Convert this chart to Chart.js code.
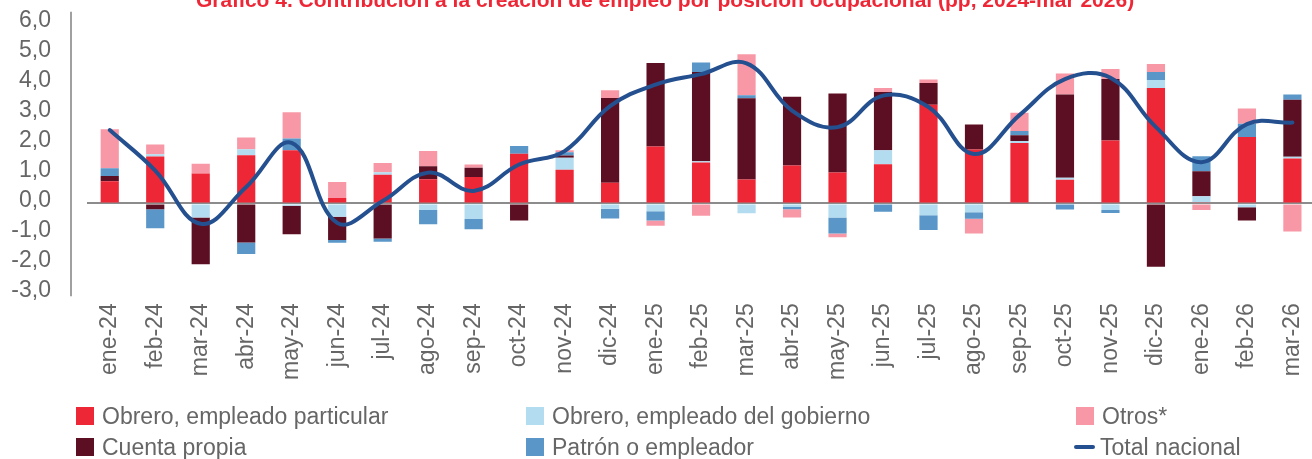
<!DOCTYPE html>
<html><head><meta charset="utf-8">
<script src="https://cdn.jsdelivr.net/npm/chart.js@4.4.1/dist/chart.umd.min.js"></script>
<style>
html,body{margin:0;padding:0;background:#fff;overflow:hidden;width:1312px;height:459px;position:relative;}
#wrap{position:absolute;left:0;top:-26px;width:1330px;height:485px;}
.lt{position:absolute;font-family:"Liberation Sans",Arial,sans-serif;font-size:23px;color:#666;white-space:nowrap;line-height:26px;}
.sw{position:absolute;}
</style></head><body>
<div id="wrap"><canvas id="c" width="1330" height="485"></canvas></div>
<div id="legend"></div>
<script>
const categories = ["ene-24","feb-24","mar-24","abr-24","may-24","jun-24","jul-24","ago-24","sep-24","oct-24","nov-24","dic-24",
  "ene-25","feb-25","mar-25","abr-25","may-25","jun-25","jul-25","ago-25","sep-25","oct-25","nov-25","dic-25",
  "ene-26","feb-26","mar-26"];
const obreroParticular = [0.74,1.57,1.00,1.61,1.78,0.18,0.96,0.81,0.88,1.66,1.13,0.69,1.90,1.37,0.80,1.27,1.03,1.31,3.30,1.80,2.02,0.79,2.10,3.86,0.04,2.22,1.50];
const obreroGobierno = [0.00,0.07,-0.47,0.20,-0.08,-0.44,0.08,-0.22,-0.52,0.00,0.40,-0.18,-0.26,0.04,-0.33,-0.12,-0.47,0.47,-0.39,-0.29,0.07,0.07,-0.22,0.26,0.20,-0.13,0.06];
const cuentaPropia = [0.18,-0.19,-1.56,-1.30,-0.95,-0.78,-1.17,0.43,0.31,-0.57,0.07,2.83,2.79,2.98,2.71,2.29,2.64,1.94,0.72,0.84,0.19,2.78,2.06,-2.11,0.84,-0.44,1.90];
const patron = [0.26,-0.64,0.00,-0.39,0.39,-0.09,-0.11,-0.47,-0.34,0.26,0.11,-0.32,-0.31,0.32,0.10,-0.07,-0.53,-0.28,-0.50,-0.22,0.14,-0.20,-0.10,0.27,0.50,0.44,0.18];
const otros = [1.30,0.33,0.33,0.39,0.88,0.54,0.31,0.51,0.11,0.00,0.07,0.26,-0.17,-0.41,1.37,-0.28,-0.13,0.14,0.12,-0.49,0.61,0.70,0.33,0.27,-0.22,0.51,-0.94];
const totalNacional = [2.45,1.10,-0.68,0.55,2.02,-0.65,0.08,1.03,0.42,1.30,1.75,3.25,3.97,4.32,4.68,3.10,2.55,3.60,3.22,1.65,2.95,4.15,4.20,2.55,1.38,2.65,2.70];
const yTicks = [-3,-2,-1,0,1,2,3,4,5,6];

const C = {
  red:"#ee2737", light:"#b3dcf0", pink:"#f898a6", dark:"#5c0f22", blue:"#5a97c8", line:"#24508f", text:"#666666"
};
const FONT = '"Liberation Sans", Arial, sans-serif';

const axisLine = {
  id:'axisLine',
  afterDraw(chart){
    const {ctx, chartArea:a} = chart;
    ctx.save();
    ctx.strokeStyle = '#808080';
    ctx.lineWidth = 1.5;
    ctx.beginPath();
    ctx.moveTo(a.left-16, a.top-12);
    ctx.lineTo(a.left-16, a.bottom+3);
    ctx.stroke();
    ctx.restore();
  }
};

const bar = (label, data, color, order) => ({
  type:'bar', label, data, backgroundColor:color, borderWidth:0, order, stack:'s',
  barPercentage:0.4, categoryPercentage:1.0
});

new Chart(document.getElementById('c'), {
  data:{
    labels:categories,
    datasets:[
      {type:'line', label:'Total nacional', data:totalNacional, borderColor:C.line, backgroundColor:C.line,
       borderWidth:4, pointRadius:0, tension:0.4, order:0, borderCapStyle:'round'},
      bar('Obrero, empleado particular', obreroParticular, C.red, 1),
      bar('Obrero, empleado del gobierno', obreroGobierno, C.light, 2),
      bar('Cuenta propia', cuentaPropia, C.dark, 3),
      bar('Patrón o empleador', patron, C.blue, 4),
      bar('Otros*', otros, C.pink, 5)
    ]
  },
  options:{
    responsive:false, animation:false,
    layout:{padding:{left:0,right:0,top:0,bottom:65.7}},
    plugins:{
      legend:{display:false},
      tooltip:{enabled:false},
      title:{display:true, text:'Gráfico 4. Contribución a la creación de empleo por posición ocupacional (pp, 2024-mar 2026)',
        color:C.red, font:{family:FONT, size:21, weight:'bold', lineHeight:1.2}, padding:{top:3,bottom:9.7}}
    },
    scales:{
      x:{
        stacked:true,
        grid:{display:false, drawTicks:false},
        border:{display:false},
        ticks:{color:C.text, font:{family:FONT,size:23}, minRotation:90, maxRotation:90, autoSkip:false, padding:10},
        afterFit:(s)=>{ s.height = 100; }
      },
      y:{
        stacked:true, min:-3, max:6,
        afterBuildTicks:(s)=>{ s.ticks = yTicks.map(v=>({value:v})); },
        grid:{drawTicks:false, color:(ctx)=> ctx.tick && ctx.tick.value===0 ? '#8c8c8c' : 'rgba(0,0,0,0)', lineWidth:2},
        border:{display:false},
        ticks:{color:C.text, font:{family:FONT,size:23}, padding:36, labelOffset:-3, autoSkip:false,
          callback:(v)=> Number(v).toFixed(1).replace('.', ',')},
        afterFit:(s)=>{ s.width = 87; }
      }
    }
  },
  plugins:[axisLine]
});

const legendItems = [
  {label:'Obrero, empleado particular', color:C.red, kind:'box', x:76, y:407},
  {label:'Obrero, empleado del gobierno', color:C.light, kind:'box', x:526, y:407},
  {label:'Otros*', color:C.pink, kind:'box', x:1076, y:407},
  {label:'Cuenta propia', color:C.dark, kind:'box', x:76, y:438},
  {label:'Patrón o empleador', color:C.blue, kind:'box', x:526, y:438},
  {label:'Total nacional', color:C.line, kind:'line', x:1074, y:438}
];
const lg = document.getElementById('legend');
legendItems.forEach(it=>{
  const sw = document.createElement('div');
  sw.className='sw';
  if(it.kind==='box'){
    Object.assign(sw.style,{left:it.x+'px',top:it.y+'px',width:'18px',height:'18px',background:it.color});
  } else {
    Object.assign(sw.style,{left:it.x+'px',top:(it.y+7)+'px',width:'21px',height:'4px',background:it.color,borderRadius:'2px'});
  }
  lg.appendChild(sw);
  const t = document.createElement('div');
  t.className='lt';
  t.textContent = it.label;
  Object.assign(t.style,{left:(it.x+26)+'px',top:(it.y-4)+'px'});
  lg.appendChild(t);
});
</script>
</body></html>
